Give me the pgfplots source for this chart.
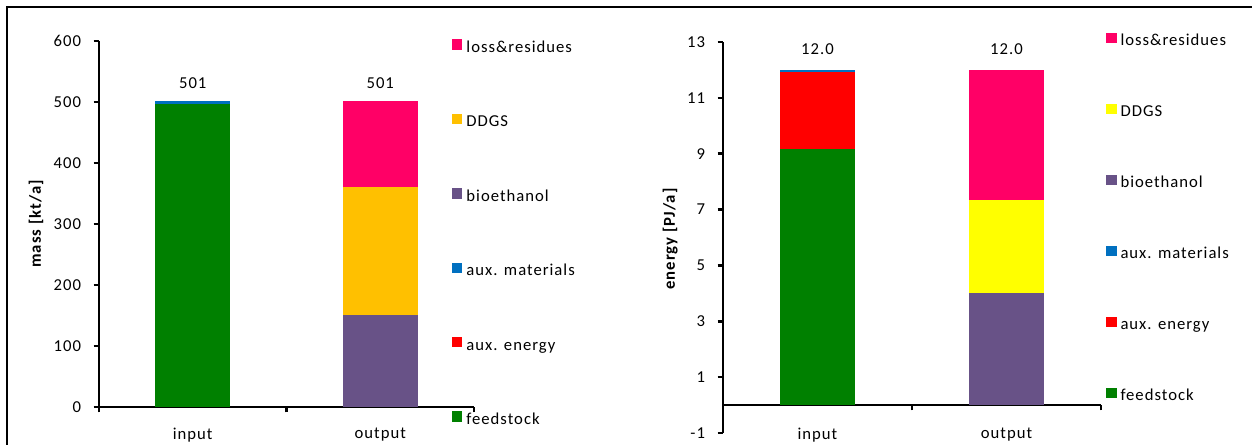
\documentclass[border=0pt]{standalone}
\usepackage{pgfplots}
\pgfplotsset{compat=1.18}
\usepackage{fontspec}
\setmainfont{Carlito}[LetterSpace=6]
\definecolor{cfeed}{RGB}{0,128,0}
\definecolor{cauxe}{RGB}{255,0,0}
\definecolor{cauxm}{RGB}{0,112,192}
\definecolor{cbio}{RGB}{104,82,135}
\definecolor{cddgsA}{RGB}{255,192,0}
\definecolor{cddgsB}{RGB}{255,255,0}
\definecolor{closs}{RGB}{255,0,102}
\pgfplotsset{
 mystyle/.style={
  scale only axis,
  ybar stacked,
  bar width=0.4,
  xmin=0.5, xmax=2.5,
  xtick={1,2}, xticklabels={input,output},
  minor xtick={0.5,1.5,2.5},
  every major x tick/.style={draw=none},
  tick align=outside,
  major tick length=4pt, minor tick length=4pt,
  axis line style={line width=2.1pt},
  every tick/.style={line width=2pt, black},
  tick label style={font=\fontsize{12.5}{14}\selectfont, text=black},
  yticklabel style={xshift=-6pt},
  /pgf/number format/assume math mode=true,
  reverse legend,
  legend style={draw=none, fill=none, inner sep=0pt,
    font=\fontsize{12.5}{14}\selectfont,
    nodes={inner sep=0pt, text height=7.5pt, text depth=2.5pt},
    column sep=3pt},
  legend cell align=left,
  legend image code/.code={\fill[##1] (0pt,-0.5pt) rectangle (7.75pt,7.25pt);},
  ylabel style={font=\bfseries\fontsize{12.5}{14}\selectfont, anchor=center},
  legend entries={feedstock, aux. energy, aux. materials, bioethanol, DDGS, loss\&residues},
 },
 totstyle/.style={
  scale only axis, hide axis, ybar, bar width=0.4,
  xmin=0.5, xmax=2.5,
 },
 totlab/.style={draw=none, fill=none, nodes near coords, point meta=explicit symbolic,
   nodes near coords style={anchor=south, inner sep=0pt, yshift=#1,
     font=\fontsize{12.5}{14}\selectfont, text=black}},
}
\begin{document}
\begin{tikzpicture}
\useasboundingbox (0pt,0pt) rectangle (939pt,333.75pt);
\draw[line width=1.5pt] (4.875pt,-2pt) -- (4.875pt,328.5pt) -- (941pt,328.5pt);
\begin{axis}[mystyle,
  at={(74.25pt,28.5pt)}, anchor=south west,
  width=281.25pt, height=274.5pt,
  ymin=0, ymax=600, ytick={0,100,...,600},
  axis x line*=bottom, axis y line*=left,
  xticklabel style={yshift=-8pt},
  ylabel={mass [kt/a]},
  ylabel style={at={(axis description cs:-0.168,0.5)}},
  legend style={at={(0.941,1.005)}, anchor=north west, row sep=43.55pt},
]
\addplot[draw=none, fill=cfeed] coordinates {(1,496) (2,0)};
\addplot[draw=none, fill=cauxe] coordinates {(1,0) (2,0)};
\addplot[draw=none, fill=cauxm] coordinates {(1,5) (2,0)};
\addplot[draw=none, fill=cbio] coordinates {(1,0) (2,151)};
\addplot[draw=none, fill=cddgsA] coordinates {(1,0) (2,209)};
\addplot[draw=none, fill=closs] coordinates {(1,0) (2,141)};
\end{axis}
\begin{axis}[totstyle,
  at={(74.25pt,28.5pt)}, anchor=south west,
  width=281.25pt, height=274.5pt,
  ymin=0, ymax=600,
]
\addplot[totlab=9.5pt] coordinates {(1,501) [501] (2,501) [501]};
\end{axis}
\begin{axis}[mystyle,
  at={(542.25pt,9pt)}, anchor=south west,
  width=283.5pt, height=293.25pt,
  ymin=-1, ymax=13, ytick={-1,1,...,13},
  axis x line*=middle, axis y line*=left,
  xticklabel style={yshift=-9.5pt},
  ylabel={energy [PJ/a]},
  ylabel style={at={(axis description cs:-0.140,0.496)}},
  legend style={at={(1.013,1.024)}, anchor=north west, row sep=41pt},
]
\addplot[draw=none, fill=cfeed] coordinates {(1,9.17) (2,0)};
\addplot[draw=none, fill=cauxe] coordinates {(1,2.75) (2,0)};
\addplot[draw=none, fill=cauxm] coordinates {(1,0.08) (2,0)};
\addplot[draw=none, fill=cbio] coordinates {(1,0) (2,4.0)};
\addplot[draw=none, fill=cddgsB] coordinates {(1,0) (2,3.36)};
\addplot[draw=none, fill=closs] coordinates {(1,0) (2,4.64)};
\end{axis}
\begin{axis}[totstyle,
  at={(542.25pt,9pt)}, anchor=south west,
  width=283.5pt, height=293.25pt,
  ymin=-1, ymax=13,
]
\addplot[totlab=11pt] coordinates {(1,12.0) [12.0] (2,12.0) [12.0]};
\end{axis}
\end{tikzpicture}
\end{document}
